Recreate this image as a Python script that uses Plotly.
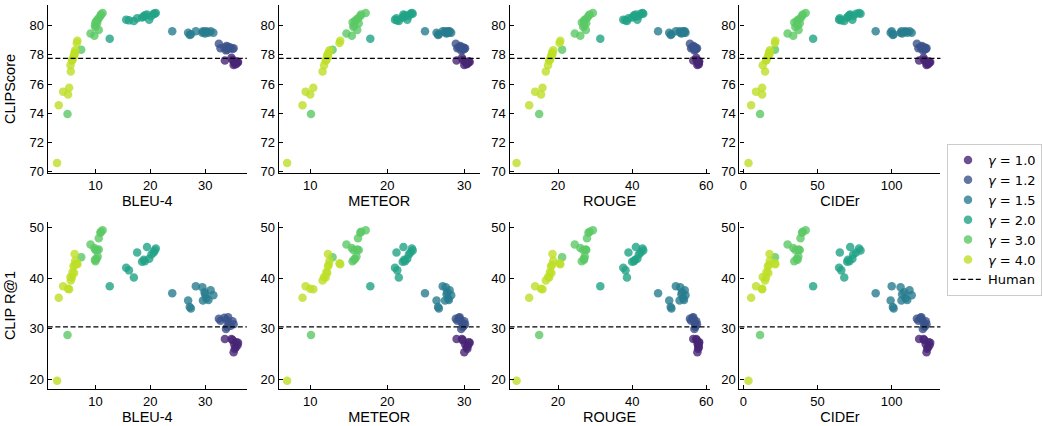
import plotly.graph_objects as go
from plotly.subplots import make_subplots

# ---------------- data ----------------
gammas = ["1.0", "1.2", "1.5", "2.0", "3.0", "4.0"]
gamma_colors = ["#482475", "#3b528b", "#287c8e", "#20a386", "#5ac864", "#bddf26"]

bleu4 = {
    "4.0": [3.0, 3.3, 4.1, 5.2, 5.0, 5.5, 5.45, 5.8, 6.0, 6.2, 6.3, 6.1, 6.6, 6.7, 6.2, 5.7],
    "3.0": [4.9, 7.4, 9.1, 9.8, 10.0, 10.6, 10.0, 10.2, 10.4, 10.6, 10.9, 11.3, 11.0, 9.9, 10.3],
    "2.0": [12.6, 15.6, 16.1, 17.0, 17.6, 18.5, 19.0, 19.4, 19.8, 20.2, 20.6, 21.0, 20.8, 18.8],
    "1.5": [24.0, 26.9, 27.2, 27.4, 28.3, 29.5, 29.9, 30.2, 30.6, 31.0, 31.5, 30.0, 29.6],
    "1.2": [32.5, 32.8, 33.5, 33.9, 34.3, 34.6, 35.0, 33.8, 34.2, 35.2, 34.0],
    "1.0": [33.6, 35.0, 35.3, 35.6, 35.9, 35.2, 35.7, 34.8, 35.4, 36.0],
}
meteor = {
    "4.0": [7.0, 9.0, 9.4, 10.4, 10.0, 11.6, 11.8, 12.1, 12.3, 12.4, 12.5, 12.2, 13.8, 13.9, 12.3, 12.0],
    "3.0": [10.1, 12.9, 14.7, 15.4, 15.6, 16.1, 15.5, 15.8, 16.0, 16.2, 16.5, 17.2, 16.6, 15.7, 16.3],
    "2.0": [17.8, 21.0, 21.3, 21.5, 21.2, 22.0, 22.3, 22.1, 22.6, 22.8, 23.0, 23.2, 23.3, 22.2],
    "1.5": [24.9, 26.4, 26.6, 26.7, 27.2, 27.6, 27.8, 27.9, 28.0, 28.1, 28.3, 27.7, 27.5],
    "1.2": [28.9, 29.1, 29.3, 29.5, 29.7, 29.9, 30.0, 29.6, 29.4, 30.1, 29.8],
    "1.0": [29.0, 29.8, 30.1, 30.3, 30.5, 30.0, 30.6, 29.7, 30.4, 30.7],
}
rouge = {
    "4.0": [8.8, 12.2, 13.8, 15.8, 15.4, 16.7, 17.3, 17.8, 18.1, 18.4, 18.7, 18.2, 20.4, 20.6, 18.5, 17.6],
    "3.0": [14.9, 21.1, 24.5, 26.0, 26.8, 27.5, 26.4, 27.0, 27.2, 27.8, 28.2, 29.4, 28.5, 27.0, 27.6],
    "2.0": [31.4, 37.6, 38.2, 38.6, 39.0, 40.0, 40.5, 41.0, 41.4, 41.8, 42.3, 42.8, 43.0, 40.8],
    "1.5": [47.0, 50.0, 50.4, 50.6, 51.8, 53.0, 53.5, 53.8, 54.0, 54.2, 54.4, 53.3, 52.8],
    "1.2": [55.6, 55.9, 56.3, 56.6, 56.9, 57.1, 57.3, 56.8, 56.5, 57.5, 57.0],
    "1.0": [56.5, 57.4, 57.7, 58.0, 57.9, 57.6, 58.1, 57.3, 57.8, 58.0],
}
cider = {
    "4.0": [3.4, 5.2, 8.5, 12.6, 12.6, 14.6, 13.0, 15.5, 16.5, 17.3, 17.8, 16.8, 21.2, 21.5, 17.6, 15.2],
    "3.0": [11.2, 21.3, 29.8, 33.6, 35.0, 37.2, 34.3, 36.0, 37.0, 38.5, 39.5, 42.0, 40.0, 36.5, 38.0],
    "2.0": [47.0, 64.5, 66.0, 68.0, 65.0, 70.0, 71.5, 72.0, 73.5, 74.0, 76.0, 78.0, 79.0, 70.5],
    "1.5": [89.2, 99.3, 100.8, 101.3, 100.0, 106.0, 108.5, 109.3, 110.5, 112.0, 113.5, 107.0, 106.6],
    "1.2": [117.0, 118.0, 119.5, 120.5, 121.5, 122.5, 123.0, 121.0, 120.0, 123.5, 122.0],
    "1.0": [118.5, 122.0, 123.0, 124.5, 125.5, 123.5, 125.0, 121.5, 124.0, 126.0],
}
clipscore = {
    "4.0": [70.6, 74.55, 75.48, 75.75, 75.28, 76.85, 77.28, 77.65, 77.85, 78.15, 78.3, 77.95, 78.8, 78.95, 78.05, 77.6],
    "3.0": [73.95, 78.35, 79.45, 79.3, 79.9, 79.7, 80.2, 80.3, 80.4, 80.5, 80.65, 80.85, 80.75, 80.0, 80.15],
    "2.0": [79.1, 80.4, 80.35, 80.3, 80.5, 80.55, 80.7, 80.75, 80.4, 80.65, 80.8, 80.85, 80.8, 80.6],
    "1.5": [79.6, 79.5, 79.35, 79.4, 79.6, 79.5, 79.55, 79.6, 79.5, 79.6, 79.5, 79.45, 79.6],
    "1.2": [78.75, 78.45, 78.5, 78.6, 78.45, 78.5, 78.4, 78.3, 78.55, 78.45, 78.35],
    "1.0": [77.6, 77.65, 77.5, 77.35, 77.45, 77.3, 77.55, 77.8, 77.4, 77.5],
}
clip_r1 = {
    "4.0": [19.8, 36.1, 38.4, 37.8, 37.9, 39.5, 40.2, 41.2, 42.3, 42.6, 43.4, 41.0, 42.9, 42.7, 44.7, 40.1],
    "3.0": [28.8, 44.1, 46.6, 45.9, 45.5, 45.6, 43.3, 43.8, 44.2, 47.8, 48.9, 49.4, 49.1, 43.6, 45.5],
    "2.0": [38.4, 42.0, 41.5, 40.1, 45.0, 43.2, 43.3, 46.1, 43.8, 44.6, 45.0, 45.8, 45.4, 43.6],
    "1.5": [37.0, 35.6, 34.3, 34.0, 38.4, 38.2, 37.2, 36.0, 35.7, 37.6, 36.6, 36.8, 35.6],
    "1.2": [32.0, 31.6, 32.2, 31.8, 31.2, 30.6, 31.5, 30.0, 32.3, 30.9, 30.4],
    "1.0": [28.0, 27.8, 27.0, 26.4, 26.8, 25.4, 27.4, 28.0, 26.1, 27.3],
}
human_clipscore = 77.75
human_clip_r1 = 30.4

x_metrics = [("BLEU-4", bleu4), ("METEOR", meteor), ("ROUGE", rouge), ("CIDEr", cider)]
y_metrics = [("CLIPScore", clipscore, human_clipscore), ("CLIP R@1", clip_r1, human_clip_r1)]

x_ticks = [[10, 20, 30], [10, 20, 30], [20, 40, 60], [0, 50, 100]]
x_ranges = [[1.3, 37.6], [5.9, 32.0], [6.9, 60.9], [-2.7, 132.9]]
y_ticks = [[70, 72, 74, 76, 78, 80], [20, 30, 40, 50]]
y_ranges = [[69.92, 81.4], [18.2, 51.0]]

W, H = 1042, 426
x_px = [(48, 248), (280, 482), (512, 713), (743, 945)]
y_px = [(5, 173), (222, 389)]

fig = make_subplots(rows=2, cols=4)

tick_font = dict(family="Liberation Sans, Arial, sans-serif", size=13, color="black")
title_font = dict(family="Liberation Sans, Arial, sans-serif", size=14.5, color="black")

for r, (ylab, ydata, human) in enumerate(y_metrics):
    for c, (xlab, xdata) in enumerate(x_metrics):
        for g, col in zip(gammas, gamma_colors):
            fig.add_trace(
                go.Scatter(
                    x=xdata[g], y=ydata[g], mode="markers",
                    marker=dict(size=8.5, color=col, opacity=0.8, line=dict(width=0)),
                    name=f"<i>γ</i> = {g}", legendgroup=g,
                    showlegend=(r == 0 and c == 0),
                ),
                row=r + 1, col=c + 1,
            )
        fig.add_hline(
            y=human, row=r + 1, col=c + 1,
            line=dict(color="black", width=1.3, dash="5px,2.6px"),
            name="Human", showlegend=(r == 0 and c == 0), legendgroup="human",
        )
        x0, x1 = x_px[c]
        y0, y1 = y_px[r]
        fig.update_xaxes(
            domain=[x0 / W, x1 / W], range=x_ranges[c], tickvals=x_ticks[c],
            title=dict(text=xlab, font=title_font, standoff=3),
            row=r + 1, col=c + 1,
        )
        fig.update_yaxes(
            domain=[1 - y1 / H, 1 - y0 / H], range=y_ranges[r], tickvals=y_ticks[r],
            title=dict(text=ylab if c == 0 else "", font=title_font, standoff=10),
            row=r + 1, col=c + 1,
        )

fig.update_xaxes(showline=True, linecolor="black", linewidth=1.2, mirror=False,
                 ticks="inside", ticklen=4, tickwidth=1.1, tickcolor="black",
                 showgrid=False, zeroline=False, tickfont=tick_font, automargin=False)
fig.update_yaxes(showline=True, linecolor="black", linewidth=1.2, mirror=False,
                 ticks="inside", ticklen=4, tickwidth=1.1, tickcolor="black",
                 showgrid=False, zeroline=False, tickfont=tick_font, automargin=False)

fig.update_layout(
    width=W, height=H,
    margin=dict(l=0, r=0, t=0, b=0),
    paper_bgcolor="white", plot_bgcolor="white",
    legend=dict(
        x=952 / W, y=1 - 144 / H, xanchor="left", yanchor="top",
        font=dict(family="DejaVu Sans, sans-serif", size=13, color="black"),
        bordercolor="#cccccc", borderwidth=1, bgcolor="white",
        itemwidth=30, tracegroupgap=0,
    ),
)

fig.write_html(
    "out.html",
    config={"displayModeBar": False},
    post_script="document.body.style.margin='0';document.body.style.padding='0';",
)
